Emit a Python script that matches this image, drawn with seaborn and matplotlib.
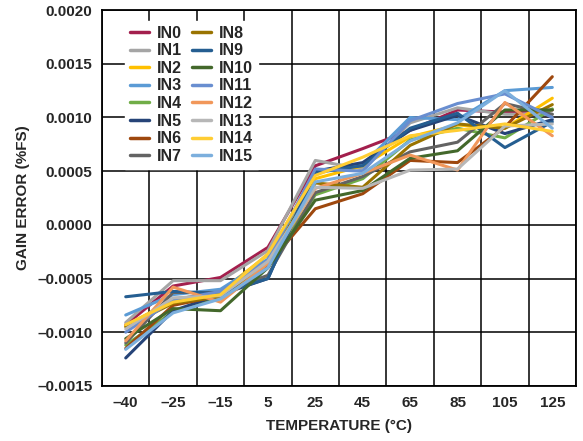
import pandas as pd
import seaborn as sns
import matplotlib.pyplot as plt
from matplotlib.ticker import FixedLocator, FuncFormatter

# ---- data ----
temps = ["–40", "–25", "–15", "5", "25", "45", "65", "85", "105", "125"]
channels = [f"IN{i}" for i in range(16)]

IN0 = [-0.00093, -0.00057, -0.00049, -0.00021, 0.00055, 0.00071, 0.00088, 0.00107, 0.00105, 0.00107]
IN1 = [-0.00091, -0.00052, -0.00052, -0.00024, 0.00060, 0.00052, 0.00095, 0.00109, 0.00103, 0.00103]
IN2 = [-0.00094, -0.00070, -0.00062, -0.00028, 0.00043, 0.00055, 0.00082, 0.00093, 0.00090, 0.00118]
IN3 = [-0.00084, -0.00065, -0.00060, -0.00032, 0.00048, 0.00056, 0.00100, 0.00098, 0.00125, 0.00128]
IN4 = [-0.00112, -0.00081, -0.00068, -0.00038, 0.00028, 0.00043, 0.00079, 0.00090, 0.00081, 0.00108]
IN5 = [-0.00124, -0.00080, -0.00065, -0.00050, 0.00050, 0.00058, 0.00088, 0.00102, 0.00085, 0.00098]
IN6 = [-0.00115, -0.00075, -0.00066, -0.00037, 0.00015, 0.00029, 0.00060, 0.00058, 0.00091, 0.00138]
IN7 = [-0.00110, -0.00063, -0.00063, -0.00047, 0.00030, 0.00045, 0.00068, 0.00077, 0.00113, 0.00103]
IN8 = [-0.00095, -0.00073, -0.00067, -0.00035, 0.00039, 0.00035, 0.00074, 0.00094, 0.00090, 0.00112]
IN9 = [-0.00067, -0.00062, -0.00064, -0.00050, 0.00049, 0.00055, 0.00090, 0.00104, 0.00072, 0.00096]
IN10 = [-0.00106, -0.00078, -0.00080, -0.00040, 0.00023, 0.00032, 0.00062, 0.00069, 0.00107, 0.00107]
IN11 = [-0.00100, -0.00070, -0.00062, -0.00033, 0.00052, 0.00050, 0.00097, 0.00113, 0.00122, 0.00100]
IN12 = [-0.00108, -0.00058, -0.00072, -0.00036, 0.00034, 0.00048, 0.00065, 0.00051, 0.00114, 0.00083]
IN13 = [-0.00097, -0.00068, -0.00066, -0.00034, 0.00035, 0.00034, 0.00051, 0.00052, 0.00092, 0.00094]
IN14 = [-0.00093, -0.00072, -0.00065, -0.00027, 0.00046, 0.00063, 0.00083, 0.00088, 0.00094, 0.00087]
IN15 = [-0.00116, -0.00082, -0.00069, -0.00040, 0.00040, 0.00048, 0.00078, 0.00095, 0.00125, 0.00090]

series = [IN0, IN1, IN2, IN3, IN4, IN5, IN6, IN7, IN8, IN9, IN10, IN11, IN12, IN13, IN14, IN15]
colors = ["#A31F4D", "#A5A5A5", "#FFC000", "#5B9BD5", "#70AD47", "#264478", "#9E480E", "#636363",
          "#997300", "#255E91", "#43682B", "#698ED0", "#F1975A", "#B7B7B7", "#FFCD33", "#7CAFDD"]

df = pd.DataFrame([(ch, t, v) for ch, vals in zip(channels, series) for t, v in zip(temps, vals)],
                  columns=["channel", "temp", "gain"])

sns.set_style("white")
plt.rcParams["font.family"] = ["Liberation Sans", "DejaVu Sans"]
plt.rcParams["font.weight"] = "bold"

fig = plt.figure(figsize=(5.83, 4.41), dpi=100)
ax = fig.add_axes([0.175, 0.125, 0.813, 0.852])

sns.lineplot(data=df, x="temp", y="gain", hue="channel", hue_order=channels,
             palette=dict(zip(channels, colors)), linewidth=2.2, sort=False, ax=ax)

# ---- axes ----
ax.set_xlim(-0.5, len(temps) - 0.5)
ax.set_ylim(-0.0015, 0.0020)
ax.yaxis.set_major_locator(FixedLocator([-0.0015 + 0.0005 * i for i in range(8)]))
ax.yaxis.set_major_formatter(FuncFormatter(lambda v, p: f"{v:.4f}".replace("-", "\u2013")))
ax.xaxis.set_minor_locator(FixedLocator([i + 0.5 for i in range(-1, len(temps))]))
ax.grid(True, axis="y", which="major", color="black", linewidth=1.1)
ax.grid(True, axis="x", which="minor", color="black", linewidth=1.1)
ax.tick_params(axis="x", which="both", length=0, labelsize=11, pad=7)
ax.tick_params(axis="y", length=4, width=1, color="black", labelsize=11, pad=3)
for lbl in ax.get_xticklabels() + ax.get_yticklabels():
    lbl.set_fontweight("bold")
for sp in ax.spines.values():
    sp.set_color("black")
    sp.set_linewidth(1.3)
ax.set_axisbelow(True)

ax.set_xlabel("TEMPERATURE (°C)", fontsize=11, fontweight="bold", labelpad=7)
ax.set_ylabel("GAIN ERROR (%FS)", fontsize=11, fontweight="bold", labelpad=5)

leg = ax.legend(loc="upper left", ncol=2, frameon=True, fontsize=11.5, handlelength=1.2,
                handletextpad=0.5, columnspacing=0.6, labelspacing=0.16,
                bbox_to_anchor=(0.049, 0.971), borderpad=0.3, borderaxespad=0)
leg.get_frame().set_facecolor("white")
leg.get_frame().set_edgecolor("white")
leg.get_frame().set_alpha(1)
leg.get_frame().set_boxstyle("square", pad=0)
for t in leg.get_texts():
    t.set_fontweight("bold")
for h in leg.get_lines():
    h.set_linewidth(2.5)

fig.savefig("out.png", dpi=100)
